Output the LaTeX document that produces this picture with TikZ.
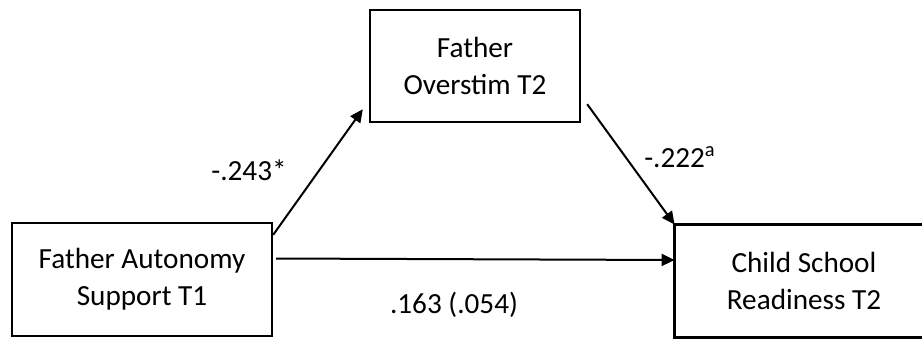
\documentclass[tikz,border=0pt]{standalone}
\usepackage{fontspec}
\setmainfont{Carlito}
\usetikzlibrary{arrows.meta}
\tikzset{
  mtext/.style={inner sep=0pt,align=center,font=\fontsize{14.6}{18.5}\selectfont},
  mbox/.style={mtext,draw,line width=1.2pt},
  mrim/.style={line width=1.2pt},
  marr/.style={-{Triangle[length=6.5pt,width=6pt]},line width=1pt},
  mlab/.style={anchor=base,inner sep=0pt,font=\fontsize{14.6}{18.5}\selectfont},
}

\begin{document}
\begin{tikzpicture}[x=0.5pt,y=-0.5pt]
% ---- page frame (the outcome box runs off the right edge)
\useasboundingbox (0,0) rectangle (922,339);
\clip (0,0) rectangle (922,339);
% ---- the three variables
\node[mbox,minimum width=130pt,minimum height=56.5pt] (auto) at (142,279.5)
  {Father Autonomy\\Support T1};
\node[mbox,minimum width=105pt,minimum height=56pt] (over) at (475,66)
  {Father\\Overstim T2};
\node[mtext,minimum width=129pt,minimum height=56pt] (ready) at (804,281)
  {Child School\\Readiness T2};
\draw[mrim] ([xshift=50pt]ready.north east) -- (ready.north west)
  -- (ready.south west) -- ([xshift=50pt]ready.south east);
% ---- paths a, b and c'
\draw[marr] ([shift={(0,13)}]auto.north east) -- ([shift={(-6,-14)}]over.south west);
\draw[marr] ([shift={(6,-19)}]over.south east) -- (ready.north west);
\draw[marr] ([shift={(3,-21)}]auto.east) -- ([shift={(0,-21)}]ready.west);
% ---- coefficients
\node[mlab] (la) at (249,180) {-.243*};
\node[mlab] (lb) at (680,167) {-.222\textsuperscript{a}};
\node[mlab] (lc) at (454,313) {.163 (.054)};
\end{tikzpicture}
\end{document}
